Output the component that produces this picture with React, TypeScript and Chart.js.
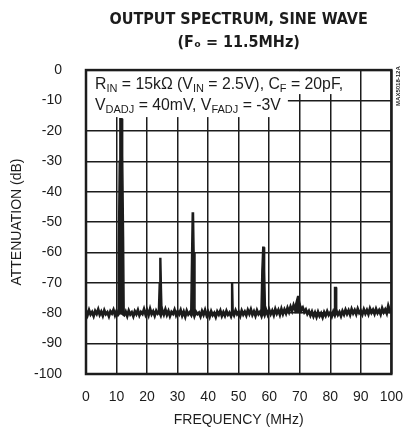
import React, { useEffect, useRef } from "react";
import { Chart, registerables } from "chart.js";

Chart.register(...registerables);

// ---- Data ----
const titleLines = ["OUTPUT SPECTRUM, SINE WAVE", "(Fₒ = 11.5MHz)"];
const xTitle = "FREQUENCY (MHz)";
const yTitle = "ATTENUATION (dB)";
const sideCode = "MAX5018-12A";

const xMin = 0;
const xMax = 100;
const xStep = 10;
const yMin = -100;
const yMax = 0;
const yStep = 10;

// noise floor sampled every 0.5 MHz from 0 to 100 MHz
const noiseStepMHz = 0.5;
const noiseDb = [
  -79.2, -80.6, -79.0, -80.4, -79.6, -80.9, -79.3, -80.2, -78.8, -80.5,
  -79.5, -80.8, -79.1, -80.3, -79.7, -81.0, -79.4, -80.1, -78.9, -80.6,
  -79.3, -80.5, -79.8, -80.0, -80.2, -80.6, -79.5, -80.9, -79.2, -80.4,
  -79.7, -81.0, -79.4, -80.3, -79.0, -80.7, -79.6, -80.2, -78.7, -80.4,
  -79.1, -80.6, -78.6, -80.3, -79.4, -80.8, -79.2, -80.1, -79.5, -80.7,
  -79.0, -80.4, -78.8, -80.5, -79.3, -80.9, -79.6, -80.2, -78.9, -80.6,
  -79.4, -80.3, -79.0, -80.8, -79.5, -81.1, -79.2, -80.4, -79.7, -80.6,
  -79.1, -80.9, -79.5, -80.3, -79.8, -81.0, -79.3, -80.5, -79.0, -80.7,
  -79.6, -81.1, -79.4, -80.6, -79.9, -81.2, -79.5, -80.4, -79.2, -80.9,
  -79.7, -80.8, -79.3, -80.5, -79.8, -81.0, -79.4, -80.6, -79.1, -80.3,
  -79.6, -80.9, -79.2, -80.4, -79.5, -80.7, -79.0, -80.2, -78.8, -80.5,
  -79.4, -80.8, -79.1, -80.3, -79.6, -80.9, -79.3, -80.6, -79.0, -80.4,
  -78.9, -80.3, -79.2, -80.6, -78.7, -80.1, -79.0, -80.5, -78.6, -80.2,
  -78.8, -80.0, -78.3, -79.6, -77.9, -79.2, -77.4, -78.7, -77.2, -78.5,
  -77.6, -79.0, -78.2, -79.6, -78.8, -80.2, -79.3, -80.7, -79.5, -81.0,
  -79.8, -81.2, -79.6, -80.9, -80.0, -81.3, -79.7, -80.8, -79.4, -80.6,
  -79.8, -81.0, -79.5, -80.7, -79.2, -80.5, -79.6, -80.9, -79.3, -80.4,
  -78.9, -80.2, -79.1, -80.5, -78.7, -80.0, -79.0, -80.3, -78.6, -79.9,
  -79.2, -80.4, -78.8, -80.1, -79.0, -80.3, -78.5, -79.8, -78.9, -80.2,
  -78.6, -79.9, -79.0, -80.3, -78.4, -79.7, -78.8, -80.0, -77.6, -79.2,
  -78.6,
];

// harmonic spurs: [MHz, dB] outline points
const peakFundamental = [[10.5, -80], [10.6, -60], [10.9, -30], [11.1, -16], [11.8, -16], [12.0, -28], [12.3, -55], [12.5, -80]];
const peak2nd = [[23.7, -80], [24.0, -70], [24.2, -62], [24.5, -62], [24.7, -72], [24.9, -80]];
const peak3rd = [[34.3, -80], [34.6, -60], [34.8, -47], [35.2, -47], [35.4, -60], [35.7, -80]];
const peak4th = [[47.5, -80], [47.7, -70], [48.0, -70], [48.2, -80]];
const peak5th = [[57.3, -80], [57.6, -66], [57.9, -58.3], [58.3, -58.3], [58.5, -66], [58.8, -80]];
const peak6th = [[68.2, -79], [68.9, -76], [69.3, -74.5], [69.6, -74.5], [70.1, -77], [70.8, -79]];
const peak7th = [[81.3, -80], [81.4, -71.5], [82.0, -71.5], [82.1, -80]];
const peaks = [peakFundamental, peak2nd, peak3rd, peak4th, peak5th, peak6th, peak7th];

// annotation lines: [text, isSubscript]
const noteLine1: [string, boolean][] = [["R", false], ["IN", true], [" = 15kΩ (V", false], ["IN", true], [" = 2.5V), C", false], ["F", true], [" = 20pF,", false]];
const noteLine2: [string, boolean][] = [["V", false], ["DADJ", true], [" = 40mV, V", false], ["FADJ", true], [" = -3V", false]];

const INK = "#1c1c1c";
const FONT = "'Liberation Sans', Arial, sans-serif";

const annotationPlugin = {
  id: "notes",
  beforeDatasetsDraw(chart: any) {
    const { ctx, chartArea } = chart;
    const main = `15.8px ${FONT}`;
    const sub = `11px ${FONT}`;
    const measure = (segs: [string, boolean][]) => {
      let w = 0;
      for (const [t, s] of segs) {
        ctx.font = s ? sub : main;
        w += ctx.measureText(t).width;
      }
      return w;
    };
    ctx.save();
    const x0 = chartArea.left + 9;
    const w1 = measure(noteLine1);
    const w2 = measure(noteLine2);
    ctx.fillStyle = "#fff";
    ctx.fillRect(chartArea.left + 1, chartArea.top + 1, x0 - chartArea.left + w1 + 8, 23);
    ctx.fillRect(chartArea.left + 1, chartArea.top + 1, x0 - chartArea.left + w2 + 6, 46);
    const drawLine = (segs: [string, boolean][], y: number) => {
      let x = x0;
      ctx.fillStyle = INK;
      ctx.textBaseline = "alphabetic";
      ctx.textAlign = "left";
      for (const [t, s] of segs) {
        ctx.font = s ? sub : main;
        ctx.fillText(t, x, s ? y + 3 : y);
        x += ctx.measureText(t).width;
      }
    };
    drawLine(noteLine1, chartArea.top + 19);
    drawLine(noteLine2, chartArea.top + 40);
    ctx.restore();
  },
  afterDatasetsDraw(chart: any) {
    const { ctx, chartArea } = chart;
    ctx.save();
    ctx.strokeStyle = INK;
    ctx.lineWidth = 2.5;
    ctx.strokeRect(chartArea.left, chartArea.top, chartArea.right - chartArea.left, chartArea.bottom - chartArea.top);
    ctx.translate(chartArea.right + 7, chartArea.top + 16);
    ctx.rotate(-Math.PI / 2);
    ctx.font = `bold 6px ${FONT}`;
    ctx.fillStyle = INK;
    ctx.textAlign = "center";
    ctx.textBaseline = "middle";
    ctx.fillText(sideCode, 0, 0);
    ctx.restore();
  },
};

export default function App() {
  const ref = useRef<HTMLCanvasElement | null>(null);
  useEffect(() => {
    if (!ref.current) return;
    const noisePts = noiseDb.map((v, i) => ({ x: i * noiseStepMHz, y: v }));
    const peakPts: any[] = [];
    peaks.forEach((p) => {
      p.forEach(([x, y]) => peakPts.push({ x, y }));
      peakPts.push({ x: p[p.length - 1][0] + 0.01, y: null });
    });
    const chart = new Chart(ref.current, {
      type: "line",
      data: {
        datasets: [
          {
            data: noisePts,
            borderColor: INK,
            borderWidth: 2.8,
            pointRadius: 0,
            tension: 0,
          },
          {
            data: peakPts,
            borderColor: INK,
            backgroundColor: INK,
            borderWidth: 1.5,
            pointRadius: 0,
            tension: 0,
            spanGaps: false,
            fill: { value: -80 },
          },
        ],
      },
      options: {
        responsive: false,
        animation: false,
        layout: { padding: { left: 0, right: 0, top: 0, bottom: 0 } },
        plugins: {
          legend: { display: false },
          tooltip: { enabled: false },
          title: {
            display: true,
            text: titleLines,
            fullSize: false,
            color: INK,
            font: { family: "'DejaVu Sans Condensed', 'DejaVu Sans', sans-serif", size: 16, weight: "bold", lineHeight: 1.44 },
            padding: { top: 8, bottom: 16 },
          },
        },
        scales: {
          x: {
            type: "linear",
            min: xMin,
            max: xMax,
            grid: { color: INK, lineWidth: 1.5, drawTicks: true, tickLength: 15, tickColor: "rgba(0,0,0,0)" },
            border: { display: false },
            ticks: { stepSize: xStep, color: INK, padding: 0, font: { family: FONT, size: 14 }, maxRotation: 0 },
            title: { display: true, text: xTitle, color: INK, font: { family: FONT, size: 14 }, padding: { top: 7, bottom: 6 } },
            afterFit: (s: any) => { s.height = 61; },
          },
          y: {
            type: "linear",
            min: yMin,
            max: yMax,
            grid: { color: INK, lineWidth: 1.5, drawTicks: false },
            border: { display: false },
            ticks: { stepSize: yStep, color: INK, padding: 24, font: { family: FONT, size: 14 } },
            title: { display: true, text: yTitle, color: INK, font: { family: FONT, size: 14 }, padding: { top: 9, bottom: 0 } },
            afterFit: (s: any) => { s.width = 86; },
          },
        },
      },
      plugins: [annotationPlugin],
    } as any);
    return () => chart.destroy();
  }, []);
  return (
    <div style={{ position: "absolute", left: 0, top: 0, width: 403, height: 435, background: "#fff" }}>
      <canvas ref={ref} width={403} height={435} style={{ display: "block" }} />
    </div>
  );
}
